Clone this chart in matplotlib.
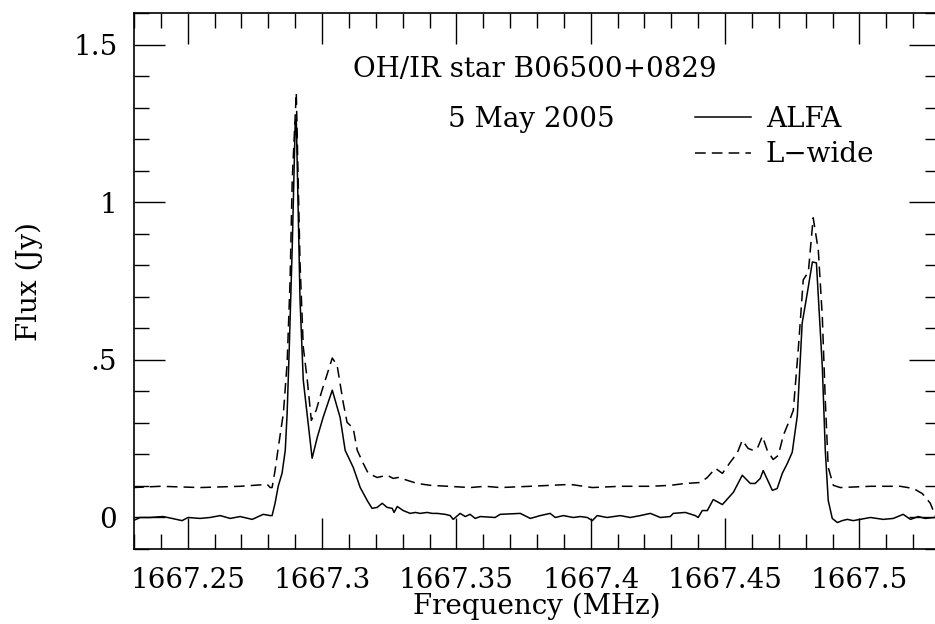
import matplotlib
matplotlib.use("Agg")
import matplotlib.pyplot as plt
from matplotlib.ticker import MultipleLocator, FuncFormatter

# ALFA (solid) spectrum
alfa_freq = [1667.2297, 1667.2323, 1667.2360, 1667.2408, 1667.2442, 1667.2479, 1667.2501,
             1667.2546, 1667.2583, 1667.2621, 1667.2658, 1667.2695, 1667.2740, 1667.2781,
             1667.2807, 1667.2814, 1667.2825, 1667.2837, 1667.2851, 1667.2863, 1667.2870,
             1667.2878, 1667.2889, 1667.2900, 1667.2904, 1667.2918, 1667.2930, 1667.2963,
             1667.2982, 1667.3004, 1667.3038, 1667.3067, 1667.3086, 1667.3116, 1667.3142,
             1667.3168, 1667.3186, 1667.3205, 1667.3224, 1667.3242, 1667.3261, 1667.3268,
             1667.3280, 1667.3302, 1667.3328, 1667.3347, 1667.3365, 1667.3391, 1667.3410,
             1667.3429, 1667.3458, 1667.3477, 1667.3488, 1667.3514, 1667.3533, 1667.3551,
             1667.3570, 1667.3589, 1667.3644, 1667.3663, 1667.3738, 1667.3775, 1667.3812,
             1667.3849, 1667.3868, 1667.3898, 1667.3935, 1667.3961, 1667.3987, 1667.4006,
             1667.4024, 1667.4061, 1667.4110, 1667.4147, 1667.4184, 1667.4222, 1667.4259,
             1667.4296, 1667.4307, 1667.4352, 1667.4389, 1667.4400, 1667.4415, 1667.4434,
             1667.4456, 1667.4490, 1667.4531, 1667.4564, 1667.4594, 1667.4612, 1667.4631,
             1667.4642, 1667.4676, 1667.4694, 1667.4713, 1667.4732, 1667.4750, 1667.4769,
             1667.4787, 1667.4806, 1667.4825, 1667.4840, 1667.4862, 1667.4873, 1667.4884,
             1667.4899, 1667.4918, 1667.4936, 1667.4955, 1667.4977, 1667.5041, 1667.5089,
             1667.5126, 1667.5163, 1667.5190, 1667.5219, 1667.5245, 1667.5279, 1667.5300]
alfa_flux = [-0.010, 0.000, 0.000, 0.003, -0.003, -0.010, 0.000,
             -0.003, 0.000, 0.006, -0.003, 0.003, -0.006, 0.010,
             0.006, 0.006, 0.045, 0.100, 0.140, 0.213, 0.331,
             0.541, 0.859, 1.250, 1.265, 0.690, 0.436, 0.188,
             0.254, 0.318, 0.404, 0.318, 0.213, 0.159, 0.095,
             0.054, 0.029, 0.032, 0.045, 0.032, 0.029, 0.016,
             0.035, 0.022, 0.013, 0.016, 0.013, 0.016, 0.013,
             0.013, 0.010, 0.006, -0.006, 0.013, 0.003, 0.010,
             -0.003, 0.003, 0.000, 0.010, 0.013, -0.003, 0.006,
             0.013, 0.000, 0.006, 0.000, 0.003, 0.000, -0.010,
             0.006, 0.000, 0.006, 0.000, 0.006, 0.013, 0.000,
             0.003, 0.013, 0.016, 0.006, 0.000, 0.022, 0.022,
             0.057, 0.041, 0.080, 0.134, 0.108, 0.108, 0.124,
             0.149, 0.086, 0.092, 0.140, 0.172, 0.207, 0.324,
             0.617, 0.712, 0.811, 0.808, 0.477, 0.213, 0.054,
             -0.003, -0.016, -0.010, -0.006, -0.010, 0.000, -0.006,
             -0.003, 0.010, -0.006, 0.003, -0.003, 0.000, 0.000]

# L-wide (dashed) spectrum
lwide_freq = [1667.2297, 1667.2399, 1667.2546, 1667.2695, 1667.2796, 1667.2807, 1667.2814,
              1667.2825, 1667.2837, 1667.2856, 1667.2870, 1667.2881, 1667.2889, 1667.2904,
              1667.2911, 1667.2918, 1667.2930, 1667.2945, 1667.2960, 1667.2978, 1667.3000,
              1667.3038, 1667.3056, 1667.3079, 1667.3093, 1667.3116, 1667.3131, 1667.3153,
              1667.3172, 1667.3205, 1667.3242, 1667.3265, 1667.3284, 1667.3317, 1667.3354,
              1667.3403, 1667.3470, 1667.3551, 1667.3607, 1667.3663, 1667.3775, 1667.3849,
              1667.3924, 1667.4006, 1667.4110, 1667.4222, 1667.4296, 1667.4352, 1667.4408,
              1667.4434, 1667.4464, 1667.4490, 1667.4519, 1667.4545, 1667.4564, 1667.4586,
              1667.4605, 1667.4620, 1667.4639, 1667.4657, 1667.4679, 1667.4698, 1667.4717,
              1667.4743, 1667.4754, 1667.4773, 1667.4791, 1667.4810, 1667.4828, 1667.4847,
              1667.4862, 1667.4873, 1667.4884, 1667.4903, 1667.4929, 1667.5041, 1667.5152,
              1667.5201, 1667.5234, 1667.5264, 1667.5279, 1667.5300]
lwide_flux = [0.095, 0.099, 0.095, 0.099, 0.105, 0.095, 0.095,
              0.149, 0.222, 0.331, 0.490, 0.754, 1.072, 1.348,
              1.072, 0.808, 0.541, 0.436, 0.308, 0.340, 0.404,
              0.506, 0.483, 0.363, 0.302, 0.283, 0.213, 0.172,
              0.140, 0.127, 0.134, 0.124, 0.127, 0.118, 0.108,
              0.102, 0.099, 0.095, 0.099, 0.095, 0.099, 0.102,
              0.105, 0.095, 0.099, 0.099, 0.102, 0.108, 0.111,
              0.127, 0.156, 0.140, 0.175, 0.204, 0.245, 0.219,
              0.213, 0.219, 0.258, 0.213, 0.184, 0.197, 0.261,
              0.315, 0.340, 0.540, 0.754, 0.779, 0.951, 0.849,
              0.636, 0.372, 0.159, 0.102, 0.095, 0.099, 0.099,
              0.092, 0.076, 0.045, 0.013, -0.030]

series_labels = ["ALFA", "L\u2212wide"]
title_text = "OH/IR star B06500+0829"
date_text = "5 May 2005"
x_label = "Frequency (MHz)"
y_label = "Flux (Jy)"

plt.rcParams['font.family'] = ['DejaVu Serif']
FS = 20

fig = plt.figure(figsize=(9.35, 6.24), dpi=100)
W, H = 935.0, 624.0
left_px, right_px, top_px, bot_px = 134, 940, 13.3, 549
ax = fig.add_axes([left_px / W, (H - bot_px) / H, (right_px - left_px) / W, (bot_px - top_px) / H])

ax.plot(alfa_freq, alfa_flux, color='black', lw=1.1, label=series_labels[0])
ax.plot(lwide_freq, lwide_flux, color='black', lw=1.1, dashes=(7, 4), label=series_labels[1])

ax.set_xlim(1667.23, 1667.53)
ax.set_ylim(-0.1, 1.6)

ax.xaxis.set_major_locator(MultipleLocator(0.05))
ax.xaxis.set_minor_locator(MultipleLocator(0.01))
ax.yaxis.set_major_locator(MultipleLocator(0.5))
ax.yaxis.set_minor_locator(MultipleLocator(0.1))


def xfmt(v, pos):
    s = "%.2f" % v
    s = s.rstrip('0').rstrip('.')
    return s


def yfmt(v, pos):
    s = "%.1f" % v
    s = s.rstrip('0').rstrip('.')
    if s.startswith('0.'):
        s = s[1:]
    if s == '-0':
        s = '0'
    return s


ax.xaxis.set_major_formatter(FuncFormatter(xfmt))
ax.yaxis.set_major_formatter(FuncFormatter(yfmt))

ax.tick_params(which='both', direction='in', top=True, right=True, width=1.0, color='black')
ax.tick_params(which='major', length=22, labelsize=FS)
ax.tick_params(axis='x', which='major', pad=13)
ax.tick_params(axis='y', which='major', pad=12)
ax.tick_params(which='minor', length=11)
for sp in ax.spines.values():
    sp.set_linewidth(1.2)

ax.set_xlabel(x_label, fontsize=FS, labelpad=-1)
ax.set_ylabel(y_label, fontsize=FS, labelpad=22)

ax.text(1667.3793, 1.421, title_text, fontsize=FS, ha='center', va='center')
ax.text(1667.347, 1.262, date_text, fontsize=FS, ha='left', va='center')

leg = ax.legend(loc='upper left', bbox_to_anchor=(0.696, 0.827), frameon=False, fontsize=FS,
                borderpad=0, borderaxespad=0, handlelength=2.0, handletextpad=0.55,
                labelspacing=0.3)

fig.savefig("out.png", dpi=100)
